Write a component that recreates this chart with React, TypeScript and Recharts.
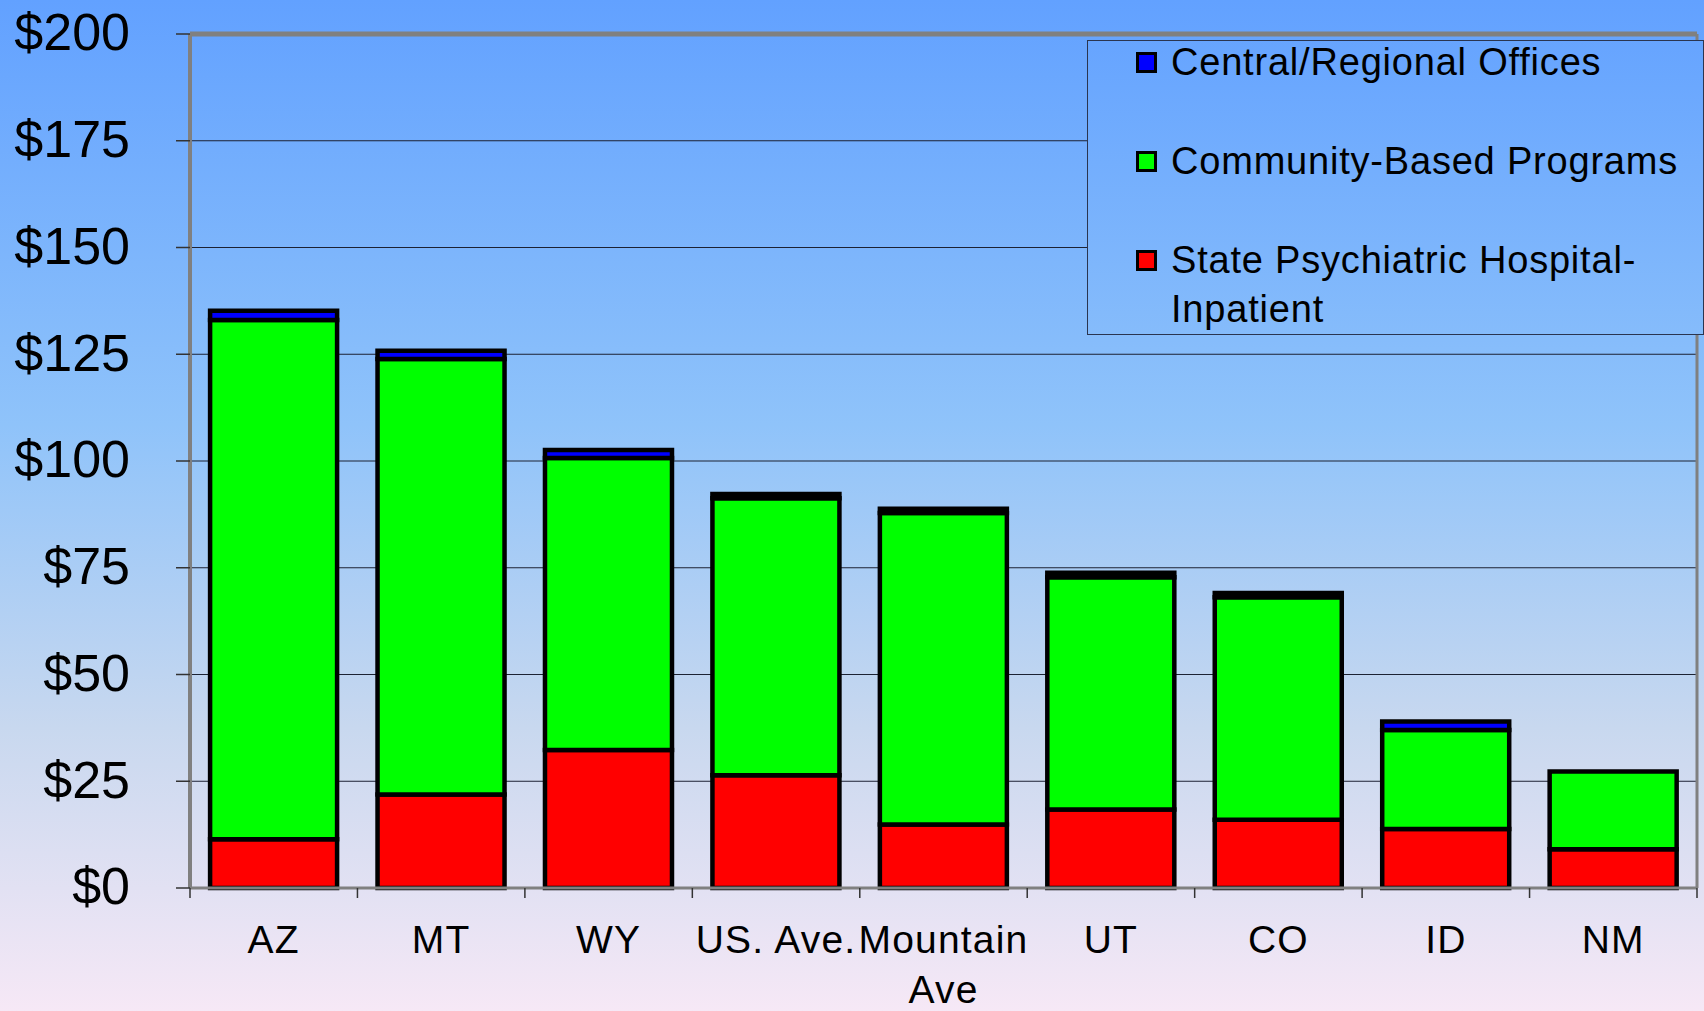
import React from 'react';
import { BarChart, Bar, XAxis, YAxis, CartesianGrid, Legend, ReferenceLine } from 'recharts';

// spending per capita by state, stacked by program type
const states = ['AZ', 'MT', 'WY', 'US. Ave.', 'Mountain\nAve', 'UT', 'CO', 'ID', 'NM'];
const hospital = [11.4, 21.9, 32.3, 26.4, 14.9, 18.4, 16.0, 13.8, 9.1];
const community = [121.6, 102.0, 68.4, 64.9, 72.9, 54.4, 52.1, 23.2, 18.2];
const offices = [2.2, 1.9, 1.9, 1.0, 1.0, 1.0, 1.0, 2.0, 0];
const yTicks = [0, 25, 50, 75, 100, 125, 150, 175, 200];
const legendOrder = ['Central/Regional Offices', 'Community-Based Programs', 'State Psychiatric Hospital-Inpatient'];

const data = states.map((s, i) => ({
  state: s,
  hospital: hospital[i],
  community: community[i],
  offices: offices[i],
}));

const FONT = '"Liberation Sans", Arial, sans-serif';
const BG = 'linear-gradient(to bottom, #62a1ff 0%, #8fc3fa 42%, #c8d8ef 72%, #f6e8f6 100%)';
const X_TICK = 10;
const X_MARGIN = 27;

// category label plus tick marks on the category boundaries
const StateTick = (props: any) => {
  const { x, y, payload, index, visibleTicksCount } = props;
  const lines = String(payload.value).split('\n');
  const half = payload.offset || 0;
  const axisY = y - X_TICK - X_MARGIN;
  const last = index === (visibleTicksCount ?? states.length) - 1;
  return (
    <g>
      {half > 0 && <line x1={x - half} x2={x - half} y1={axisY} y2={axisY + X_TICK} stroke="#333" strokeWidth={1.5} />}
      {half > 0 && last && <line x1={x + half} x2={x + half} y1={axisY} y2={axisY + X_TICK} stroke="#333" strokeWidth={1.5} />}
      <text x={x} y={y} textAnchor="middle" fontSize={39} fill="#000" letterSpacing={1.2} fontFamily={FONT}>
        {lines.map((l, i) => (
          <tspan key={i} x={x} dy={i === 0 ? '0.71em' : 50}>{l}</tspan>
        ))}
      </text>
    </g>
  );
};

const LegendBox = (props: any) => {
  const items = [...(props.payload || [])].sort(
    (a: any, b: any) => legendOrder.indexOf(a.value) - legendOrder.indexOf(b.value)
  );
  return (
    <div style={{ display: 'flex', flexDirection: 'column', gap: 50, marginTop: -3, fontFamily: FONT }}>
      {items.map((it: any) => (
        <div key={it.value} style={{ display: 'flex', alignItems: 'flex-start' }}>
          <div
            style={{
              width: 21, height: 21, marginLeft: 48, marginTop: 14, boxSizing: 'border-box',
              background: it.color, border: '3px solid #000', flexShrink: 0,
            }}
          />
          <div style={{ marginLeft: 14, width: 520, fontSize: 38, lineHeight: '49px', letterSpacing: 0.8, color: '#000' }}>
            {it.value}
          </div>
        </div>
      ))}
    </div>
  );
};

const App: React.FC = () => {
  return (
    <div
      style={{
        position: 'absolute', left: 0, top: 0, width: 1704, height: 1011,
        background: BG,
        fontFamily: FONT,
      }}
    >
      <BarChart
        width={1704}
        height={1011}
        data={data}
        margin={{ top: 34, right: 6, bottom: 0, left: 0 }}
        barCategoryGap="12%"
      >
        <CartesianGrid vertical={false} stroke="#1c2233" strokeWidth={1} />
        <XAxis
          dataKey="state"
          height={123}
          tickLine={false}
          tickSize={X_TICK}
          tickMargin={X_MARGIN}
          interval={0}
          tick={<StateTick />}
          axisLine={{ stroke: '#808080', strokeWidth: 3 }}
        />
        <YAxis
          width={190}
          domain={[0, 200]}
          ticks={yTicks}
          tickFormatter={(v: number) => `$${v}`}
          tick={{ fontSize: 52, fill: '#000', fontFamily: FONT, dy: -2 }}
          tickSize={14}
          tickMargin={46}
          tickLine={{ stroke: '#333', strokeWidth: 1.5 }}
          axisLine={{ stroke: '#808080', strokeWidth: 4 }}
        />
        <YAxis
          yAxisId="frame"
          orientation="right"
          width={1}
          domain={[0, 200]}
          tick={false}
          tickLine={false}
          axisLine={{ stroke: '#808080', strokeWidth: 3 }}
        />
        <ReferenceLine y={200} stroke="#808080" strokeWidth={5} />
        <Legend
          layout="horizontal"
          verticalAlign="middle"
          align="center"
          content={<LegendBox />}
          wrapperStyle={{
            left: 1087, top: 40, width: 617, height: 295,
            border: '1.5px solid #2a3550', boxSizing: 'border-box',
            background: BG, backgroundSize: '1704px 1011px', backgroundPosition: '-1087px -40px',
          }}
        />
        <Bar dataKey="hospital" name="State Psychiatric Hospital-Inpatient" stackId="a" fill="#ff0000" stroke="#000" strokeWidth={4.5} isAnimationActive={false} />
        <Bar dataKey="community" name="Community-Based Programs" stackId="a" fill="#00ff00" stroke="#000" strokeWidth={4.5} isAnimationActive={false} />
        <Bar dataKey="offices" name="Central/Regional Offices" stackId="a" fill="#0000ff" stroke="#000" strokeWidth={4.5} isAnimationActive={false} />
      </BarChart>
    </div>
  );
};

export default App;
